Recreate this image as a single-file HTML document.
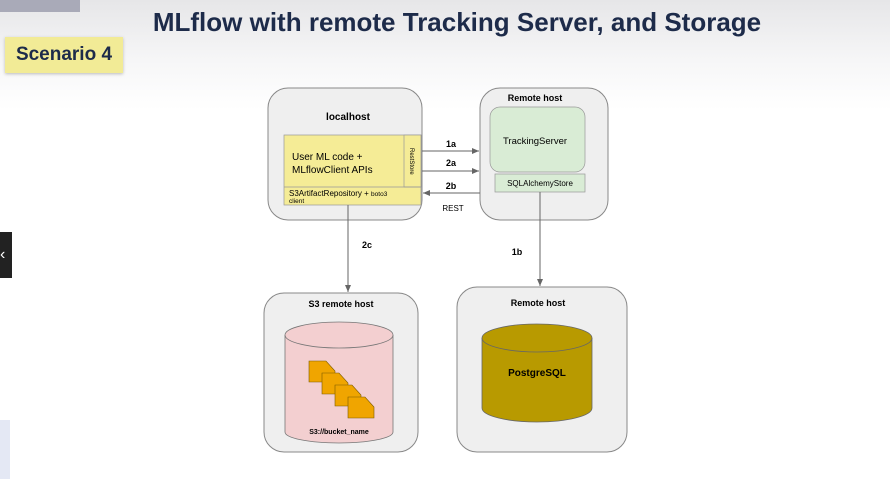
<!DOCTYPE html>
<html><head><style>
html,body{margin:0;padding:0;width:890px;height:479px;overflow:hidden;font-family:"Liberation Sans",sans-serif;}
body{background:linear-gradient(#e6e6e8 0px,#f6f6f7 60px,#fff 110px);position:relative;}
</style></head><body>
<div style="position:absolute;left:0;top:0;width:80px;height:12px;background:#a9aab8;"></div>
<div style="position:absolute;left:0;width:890px;text-align:center;padding-left:24px;box-sizing:border-box;top:7px;font-size:26px;font-weight:bold;color:#1d2b4a;">MLflow with remote Tracking Server, and Storage</div>
<div style="position:absolute;left:5px;top:37px;width:118px;height:36px;background:#f2eb96;box-shadow:0 1px 3px #bbb;font-size:19px;font-weight:bold;color:#1d2b4a;line-height:36px;text-align:center;">Scenario 4</div>
<div style="position:absolute;left:0;top:232px;width:12px;height:46px;background:#222;color:#fff;font-size:16px;line-height:46px;">‹</div>
<div style="position:absolute;left:0;top:420px;width:10px;height:59px;background:#e4e8f4;"></div>
<svg width="890" height="479" style="position:absolute;left:0;top:0" font-family="Liberation Sans, sans-serif">
<defs><marker id="a" markerWidth="8" markerHeight="8" refX="7" refY="4" orient="auto"><path d="M0,1 L7,4 L0,7z" fill="#666"/></marker></defs>
<rect x="268" y="88" width="154" height="132" rx="20" fill="#efefef" stroke="#888"/>
<text x="348" y="120" font-size="10" font-weight="bold" text-anchor="middle">localhost</text>
<rect x="284" y="135" width="137" height="70" fill="#f5ec96" stroke="#999" stroke-width="0.7"/>
<rect x="404" y="135" width="17" height="52" fill="#f5ec96" stroke="#999" stroke-width="0.7"/>
<line x1="284" y1="187" x2="421" y2="187" stroke="#999" stroke-width="0.7"/>
<text x="292" y="160" font-size="10">User ML code +</text>
<text x="292" y="173" font-size="10">MLflowClient APIs</text>
<text x="410" y="148" font-size="6" transform="rotate(90 410 148)">RestStore</text>
<text x="289" y="196" font-size="8">S3ArtifactRepository + <tspan font-size="6.5">boto3</tspan></text>
<text x="289" y="203" font-size="6.5">client</text>
<rect x="480" y="88" width="128" height="132" rx="20" fill="#efefef" stroke="#888"/>
<text x="535" y="101" font-size="9" font-weight="bold" text-anchor="middle">Remote host</text>
<rect x="490" y="107" width="95" height="65" rx="10" fill="#d9ecd5" stroke="#999" stroke-width="0.7"/>
<text x="535" y="144" font-size="9.5" text-anchor="middle">TrackingServer</text>
<rect x="495" y="174" width="90" height="18" fill="#d9ecd5" stroke="#999" stroke-width="0.7"/>
<text x="540" y="186" font-size="8" text-anchor="middle">SQLAlchemyStore</text>
<line x1="422" y1="151" x2="479" y2="151" stroke="#666" marker-end="url(#a)"/>
<line x1="422" y1="171" x2="479" y2="171" stroke="#666" marker-end="url(#a)"/>
<line x1="480" y1="193" x2="423" y2="193" stroke="#666" marker-end="url(#a)"/>
<text x="451" y="147" font-size="9" font-weight="bold" text-anchor="middle">1a</text>
<text x="451" y="166" font-size="9" font-weight="bold" text-anchor="middle">2a</text>
<text x="451" y="189" font-size="9" font-weight="bold" text-anchor="middle">2b</text>
<text x="453" y="211" font-size="8" text-anchor="middle">REST</text>
<line x1="348" y1="205" x2="348" y2="292" stroke="#666" marker-end="url(#a)"/>
<text x="367" y="248" font-size="9" font-weight="bold" text-anchor="middle">2c</text>
<line x1="540" y1="192" x2="540" y2="286" stroke="#666" marker-end="url(#a)"/>
<text x="517" y="255" font-size="9" font-weight="bold" text-anchor="middle">1b</text>
<rect x="264" y="293" width="154" height="159" rx="20" fill="#efefef" stroke="#888"/>
<text x="341" y="307" font-size="9" font-weight="bold" text-anchor="middle">S3 remote host</text>
<path d="M285,335 L285,432 A54,11 0 0 0 393,432 L393,335" fill="#f3cfd0" stroke="#777" stroke-width="0.8"/>
<ellipse cx="339" cy="335" rx="54" ry="13" fill="#f3cfd0" stroke="#777" stroke-width="0.8"/>
<g fill="#f0a500" stroke="#7a5a00" stroke-width="0.6">
<path d="M309,361 h17 l9,10 v11 h-26z"/>
<path d="M322,373 h17 l9,10 v11 h-26z"/>
<path d="M335,385 h17 l9,10 v11 h-26z"/>
<path d="M348,397 h17 l9,10 v11 h-26z"/>
</g>
<text x="339" y="434" font-size="7" font-weight="bold" text-anchor="middle">S3://bucket_name</text>
<rect x="457" y="287" width="170" height="165" rx="20" fill="#efefef" stroke="#888"/>
<text x="538" y="306" font-size="9" font-weight="bold" text-anchor="middle">Remote host</text>
<path d="M482,338 L482,408 A55,14 0 0 0 592,408 L592,338" fill="#b89a00" stroke="#666" stroke-width="0.8"/>
<ellipse cx="537" cy="338" rx="55" ry="14" fill="#b89a00" stroke="#666" stroke-width="0.8"/>
<text x="537" y="376" font-size="10" font-weight="bold" text-anchor="middle">PostgreSQL</text>
</svg>
</body></html>
